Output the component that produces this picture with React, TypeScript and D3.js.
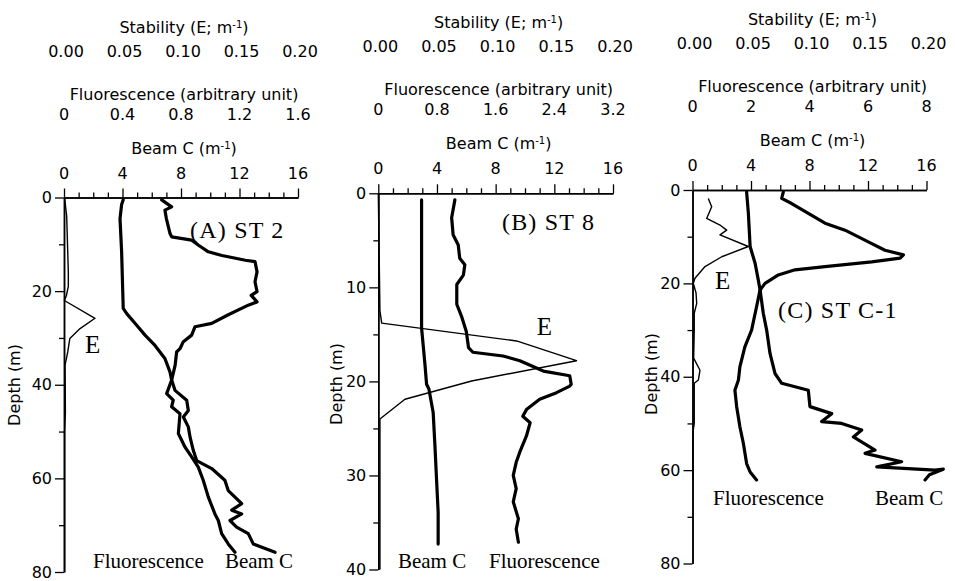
import { useEffect, useRef } from 'react';
import * as d3 from 'd3';

// ---- data: [depth (m), value] ----
const beamA: [number, number][] = [
  [0.5, 6.68], [2, 7.36], [2.7, 6.9], [4.5, 7.0], [7.7, 7.25], [8.4, 7.36], [9.1, 8.73],
  [10.2, 9.2], [11.6, 9.87], [12.4, 10.8], [13.4, 12.4], [13.7, 13.06], [15.9, 13.2],
  [18.0, 13.06], [20.1, 13.2], [20.9, 12.8], [22.3, 13.2], [23, 12.6], [25.1, 11.2],
  [26.9, 10.1], [27.6, 8.96], [29.4, 8.73], [30.8, 8.16], [32.3, 7.93], [33, 7.7],
  [35.8, 7.6], [39, 7.36], [41.2, 7.59], [43.3, 8.39], [45.5, 8.5], [46.9, 8.16],
  [49, 8.5], [51.2, 8.62], [54, 8.84], [56.2, 9.07], [57.9, 10.1], [60.4, 11.0],
  [62.6, 11.23], [65.4, 12.15], [66.8, 11.47], [67.6, 12.15], [69, 11.35], [70.4, 11.8],
  [71.8, 12.6], [74, 12.94], [75.8, 14.43],
];
const fluorA: [number, number][] = [
  [0.5, 0.405], [1.5, 0.394], [4.5, 0.383], [11.6, 0.394], [23.7, 0.405], [24.8, 0.429],
  [27.3, 0.497], [29.4, 0.554], [31.6, 0.622], [34.4, 0.69], [37.3, 0.725], [39, 0.736],
  [41.9, 0.702], [43.3, 0.747], [44.7, 0.736], [46.2, 0.793], [50.4, 0.782], [53.3, 0.827],
  [55.4, 0.873], [57.6, 0.918], [60.4, 0.952], [64, 0.987], [67.6, 1.032], [69, 1.055],
  [71.8, 1.078], [74, 1.123], [75.8, 1.169],
];
const stabA: [number, number][] = [
  [0, 0.0005], [4, 0.0023], [10, 0.003], [16, 0.0037], [19, 0.0037], [21, 0.002],
  [22, 0.0003], [25.8, 0.0265], [28, 0.0137], [30.1, 0.005], [33, 0.0032], [35.8, 0.0009],
  [46, 0.0012], [50, 0.0005], [80, 0.0005],
];

const beamB: [number, number][] = [
  [0.7, 2.95], [6.2, 2.95], [14.3, 2.95], [18.2, 3.18], [20.3, 3.29], [20.8, 3.45],
  [23.3, 3.74], [26.8, 3.86], [30.4, 3.97], [33.9, 4.08], [37.3, 4.08],
];
const fluorB: [number, number][] = [
  [0.7, 1.044], [2.6, 1.0], [4.4, 1.02], [5.5, 1.09], [6.9, 1.11], [7.6, 1.18], [8.7, 1.16],
  [9.7, 1.07], [11.8, 1.07], [13.2, 1.14], [14.7, 1.2], [16.4, 1.23], [16.9, 1.29],
  [17.3, 1.7], [17.8, 1.93], [18.9, 2.25], [19.4, 2.61], [20.3, 2.63], [20.5, 2.61],
  [21.2, 2.43], [21.9, 2.2], [23, 2.02], [23.7, 1.97], [24.4, 2.07], [25.8, 2.02],
  [27.5, 1.93], [28.6, 1.88], [30, 1.84], [31.4, 1.88], [32.8, 1.84], [34.6, 1.91],
  [35.7, 1.88], [37.1, 1.91],
];
const stabB: [number, number][] = [
  [0, 0], [12.5, 0.0014], [13.8, 0.0029], [15.7, 0.1178], [17.8, 0.1689], [19.96, 0.0795],
  [21.9, 0.0227], [24, 0.0014], [40, 0.0014],
];

const beamC: [number, number][] = [
  [0.4, 6.21], [1.8, 6.1], [2.9, 6.78], [5.0, 7.92], [7.1, 9.06], [8.6, 10.43], [11.1, 12.02],
  [12.9, 13.16], [13.9, 14.42], [14.6, 14.2], [15.4, 12.25], [16.4, 9.06], [17.1, 7.01],
  [18.2, 5.87], [20, 4.96], [21.4, 4.62], [26.4, 4.84], [30, 5.07], [35, 5.3], [39.3, 5.64],
  [41.4, 6.1], [42.9, 7.92], [46.4, 8.03], [47.9, 9.52], [49.6, 8.83], [50, 10.2],
  [51.4, 11.57], [52.9, 11.0], [55.7, 12.48], [56.4, 11.8], [58.2, 14.3], [59.3, 12.6],
  [60, 16.58], [59.8, 17.15], [61, 16.2], [62.1, 15.9],
];
const fluorC: [number, number][] = [
  [0.4, 1.85], [5, 1.91], [12.1, 1.97], [15.7, 2.14], [19.3, 2.25], [21.4, 2.31], [25, 2.19],
  [30, 2.02], [33.6, 1.79], [37.9, 1.62], [40.7, 1.57], [42.9, 1.45], [46.4, 1.51],
  [50.7, 1.62], [54.3, 1.74], [58.6, 1.85], [60.4, 1.97], [62.1, 2.19],
];
const stabC: [number, number][] = [
  [1.8, 0.0135], [3.6, 0.0164], [6.1, 0.0121], [7.5, 0.0235], [8.6, 0.0292], [9.6, 0.0235],
  [12.1, 0.0477], [14.3, 0.025], [16.4, 0.0107], [18.9, 0.0021], [20, 0.0007], [22, 0.003],
  [24.3, 0.0036], [26.4, 0.0015], [30, 0.0015], [36, 0.001], [38.6, 0.0064], [40.7, 0.005],
  [41.4, 0.0015], [50, 0.0015], [52, 0.0003], [62, 0.0003],
];

// ---- tick labels ----
const beamTicks = [0, 4, 8, 12, 16];
const beamMinor = [1, 2, 3, 5, 6, 7, 9, 10, 11, 13, 14, 15];
const stabTicks = [0, 0.05, 0.1, 0.15, 0.2];
const fluorTicksA = [0, 0.4, 0.8, 1.2, 1.6];
const fluorTicksB = [0, 0.8, 1.6, 2.4, 3.2];
const fluorTicksC = [0, 2, 4, 6, 8];
const depthTicks80 = [0, 20, 40, 60, 80];
const depthMinor80 = [10, 30, 50, 70];
const depthTicks40 = [0, 10, 20, 30, 40];
const depthMinor40 = [5, 15, 25, 35];

// label anchors in data units: [beam C value, depth]
type Note = { text: string; at: [number, number]; size: number; spacing?: number };

const panels = [
  {
    left: 64, right: 298, top: 197.5, bottom: 572,
    depthMax: 80, depthTicks: depthTicks80, depthMinor: depthMinor80,
    fluorMax: 1.6, fluorTicks: fluorTicksA, fluorFmt: (d: number) => (d === 0 ? '0' : d3.format('.1f')(d)),
    beam: beamA, fluor: fluorA, stab: stabA,
    notes: [
      { text: '(A) ST 2', at: [8.62, 8.65], size: 24, spacing: 1.2 },
      { text: 'E', at: [1.44, 33.2], size: 25 },
      { text: 'Fluorescence', at: [1.98, 79.2], size: 21 },
      { text: 'Beam C', at: [11.0, 79.2], size: 21 },
    ] as Note[],
    ylabel: [14, 385],
  },
  {
    left: 378.3, right: 613, top: 193.3, bottom: 569.5,
    depthMax: 40, depthTicks: depthTicks40, depthMinor: depthMinor40,
    fluorMax: 3.2, fluorTicks: fluorTicksB, fluorFmt: (d: number) => (d === 0 ? '0' : d3.format('.1f')(d)),
    beam: beamB, fluor: fluorB, stab: stabB,
    notes: [
      { text: '(B) ST 8', at: [8.43, 3.9], size: 24, spacing: 1.2 },
      { text: 'E', at: [10.8, 15.07], size: 25 },
      { text: 'Beam C', at: [1.34, 39.8], size: 21 },
      { text: 'Fluorescence', at: [7.55, 39.8], size: 21 },
    ] as Note[],
    ylabel: [336, 384],
  },
  {
    left: 692.5, right: 926.5, top: 190, bottom: 563.5,
    depthMax: 80, depthTicks: depthTicks80, depthMinor: depthMinor80,
    fluorMax: 8, fluorTicks: fluorTicksC, fluorFmt: d3.format('d'),
    beam: beamC, fluor: fluorC, stab: stabC,
    notes: [
      { text: '(C) ST C-1', at: [5.85, 27.4], size: 24, spacing: 1.2 },
      { text: 'E', at: [1.54, 21.2], size: 25 },
      { text: 'Fluorescence', at: [1.4, 67.5], size: 21 },
      { text: 'Beam C', at: [12.48, 67.5], size: 21 },
    ] as Note[],
    ylabel: [651, 374],
  },
];

const SANS = 'DejaVu Sans, sans-serif';
const SERIF = 'Liberation Serif, Times New Roman, serif';
const INK = '#000';

export default function App() {
  const svgRef = useRef<SVGSVGElement>(null);

  useEffect(() => {
    if (!svgRef.current) return;
    const svg = d3.select(svgRef.current);
    svg.selectAll('*').remove();

    panels.forEach((p) => {
      const g = svg.append('g');
      const x = d3.scaleLinear().domain([0, 16]).range([p.left, p.right]);
      const xF = d3.scaleLinear().domain([0, p.fluorMax]).range([p.left, p.right]);
      const xS = d3.scaleLinear().domain([0, 0.2]).range([p.left, p.right]);
      const y = d3.scaleLinear().domain([0, p.depthMax]).range([p.top, p.bottom]);

      // --- top axis (beam C): minor ticks in their own group, then majors ---
      g.append('g')
        .attr('transform', `translate(0,${p.top})`)
        .call(d3.axisTop(x).tickValues(beamMinor).tickSize(5).tickSizeOuter(0).tickFormat(() => ''));
      g.append('g')
        .attr('transform', `translate(0,${p.top})`)
        .call(d3.axisTop(x).tickValues(beamTicks).tickSize(9).tickSizeOuter(0).tickFormat(() => ''));

      // --- left axis (depth) ---
      g.append('g')
        .attr('transform', `translate(${p.left},0)`)
        .call(d3.axisLeft(y).tickValues(p.depthMinor).tickSize(5).tickSizeOuter(0).tickFormat(() => ''));
      g.append('g')
        .attr('transform', `translate(${p.left},0)`)
        .call(d3.axisLeft(y).tickValues(p.depthTicks).tickSize(9).tickSizeOuter(0).tickPadding(3));

      g.selectAll('.domain').attr('stroke', INK).attr('stroke-width', 1.5);
      g.selectAll('.tick line').attr('stroke', INK).attr('stroke-width', 1.3);
      g.selectAll('.tick text')
        .attr('font-family', SANS)
        .attr('font-size', 16)
        .attr('fill', INK);

      // --- stacked top labels ---
      const row = (vals: number[], sc: d3.ScaleLinear<number, number>, fmt: (d: number) => string, dy: number, dx = 0) => {
        g.selectAll(null)
          .data(vals)
          .enter()
          .append('text')
          .attr('x', (d) => sc(d) + dx)
          .attr('y', p.top + dy)
          .attr('text-anchor', 'middle')
          .attr('font-family', SANS)
          .attr('font-size', 16)
          .attr('fill', INK)
          .text(fmt);
      };
      const title = (parts: [string, boolean][], dy: number) => {
        const t = g.append('text')
          .attr('x', (p.left + p.right) / 2 + 3)
          .attr('y', p.top + dy)
          .attr('text-anchor', 'middle')
          .attr('font-family', SANS)
          .attr('font-size', 16)
          .attr('fill', INK);
        parts.forEach(([s, sup]) => {
          const ts = t.append('tspan').text(s);
          if (sup) ts.attr('baseline-shift', 'super').attr('font-size', 10);
        });
      };

      row(beamTicks, x, d3.format('d'), -19);
      title([['Beam C (m', false], ['-1', true], [')', false]], -44);
      row(p.fluorTicks, xF, p.fluorFmt, -78);
      title([['Fluorescence (arbitrary unit)', false]], -98);
      row(stabTicks, xS, d3.format('.2f'), -141, 2);
      title([['Stability (E; m', false], ['-1', true], [')', false]], -165);

      // y label
      g.append('text')
        .attr('transform', `translate(${p.ylabel[0]},${p.ylabel[1]}) rotate(-90)`)
        .attr('text-anchor', 'middle')
        .attr('dominant-baseline', 'central')
        .attr('font-family', SANS)
        .attr('font-size', 16)
        .attr('fill', INK)
        .text('Depth (m)');

      // --- profiles ---
      const line = (sc: d3.ScaleLinear<number, number>) =>
        d3.line<[number, number]>()
          .x((d) => sc(d[1]))
          .y((d) => y(d[0]));

      g.append('path').datum(p.stab).attr('d', line(xS)).attr('fill', 'none')
        .attr('stroke', INK).attr('stroke-width', 1.4).attr('stroke-linejoin', 'round');
      g.append('path').datum(p.fluor).attr('d', line(xF)).attr('fill', 'none')
        .attr('stroke', INK).attr('stroke-width', 3.2).attr('stroke-linejoin', 'round').attr('stroke-linecap', 'round');
      g.append('path').datum(p.beam).attr('d', line(x)).attr('fill', 'none')
        .attr('stroke', INK).attr('stroke-width', 3.2).attr('stroke-linejoin', 'round').attr('stroke-linecap', 'round');

      // --- curve / station labels ---
      p.notes.forEach((n) => {
        g.append('text')
          .attr('x', x(n.at[0]))
          .attr('y', y(n.at[1]))
          .attr('font-family', SERIF)
          .attr('font-size', n.size)
          .attr('letter-spacing', n.spacing ?? 0)
          .attr('fill', INK)
          .text(n.text);
      });
    });
  }, []);

  return (
    <svg
      ref={svgRef}
      width={955}
      height={581}
      style={{ position: 'absolute', left: 0, top: 0, background: '#fff' }}
    />
  );
}
